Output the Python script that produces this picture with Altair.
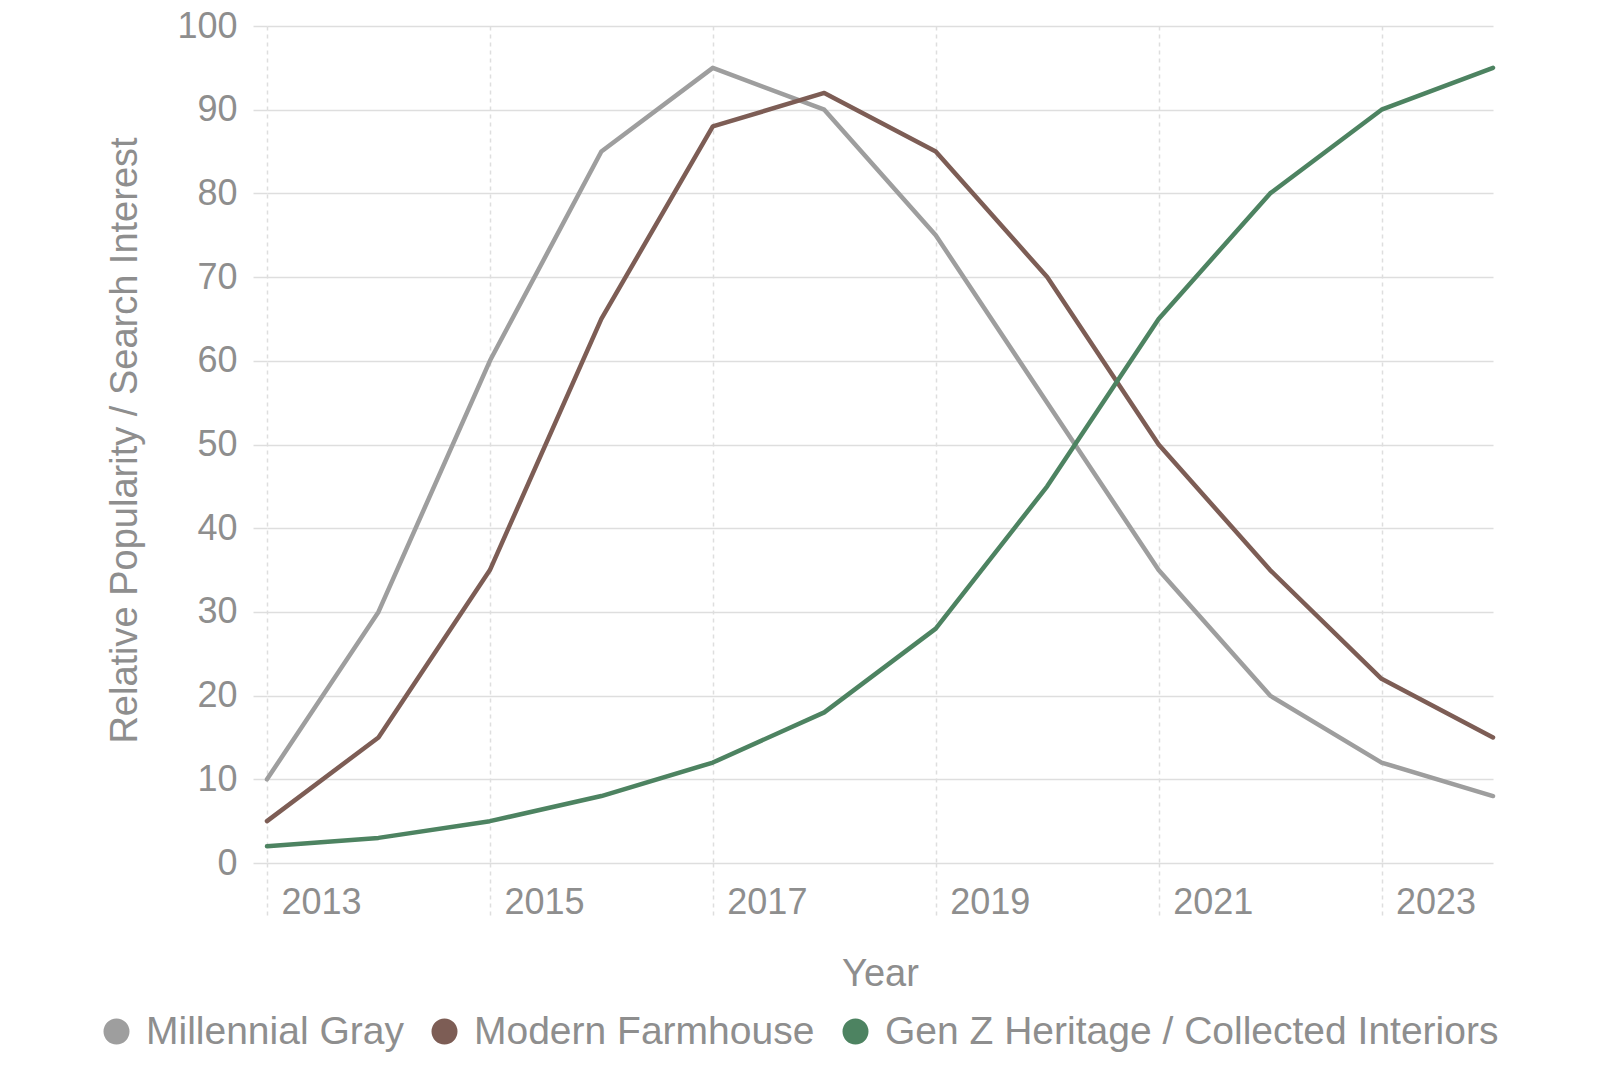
import altair as alt
import pandas as pd

years = [2013, 2014, 2015, 2016, 2017, 2018, 2019, 2020, 2021, 2022, 2023, 2024]
tick_years = [2013, 2015, 2017, 2019, 2021, 2023]
y_ticks = [0, 10, 20, 30, 40, 50, 60, 70, 80, 90, 100]

series = ["Millennial Gray", "Modern Farmhouse", "Gen Z Heritage / Collected Interiors"]
millennial_gray = [10, 30, 60, 85, 95, 90, 75, 55, 35, 20, 12, 8]
modern_farmhouse = [5, 15, 35, 65, 88, 92, 85, 70, 50, 35, 22, 15]
gen_z_heritage = [2, 3, 5, 8, 12, 18, 28, 45, 65, 80, 90, 95]
colors = ["#9e9e9e", "#7d5d55", "#4d8361"]

rows = []
for name, vals in zip(series, [millennial_gray, modern_farmhouse, gen_z_heritage]):
    for yr, v in zip(years, vals):
        rows.append({"Year": yr, "Value": v, "Style": name})
df = pd.DataFrame(rows)

grid_col = "#dedede"
text_col = "#8e8e8e"

chart = alt.Chart(df).mark_line(
    strokeWidth=4.5, strokeCap="round", strokeJoin="round"
).encode(
    x=alt.X(
        "Year:Q",
        scale=alt.Scale(domain=[2013, 2024], nice=False, zero=False),
        axis=alt.Axis(
            values=tick_years, format="d", title="Year",
            labelAlign="left", labelBaseline="top", labelOffset=14,
            labelPadding=-32, labelFlush=False,
            tickSize=54, tickDash=[4, 4], tickColor=grid_col, tickWidth=1.5,
            gridDash=[4, 4], gridColor=grid_col, gridWidth=1.5,
            domain=False, labelFontSize=36, labelColor=text_col,
            titleFontSize=38, titleColor=text_col, titleFontWeight="normal",
            titleY=92, titleBaseline="top",
        ),
    ),
    y=alt.Y(
        "Value:Q",
        scale=alt.Scale(domain=[0, 100], nice=False),
        axis=alt.Axis(
            values=y_ticks, title="Relative Popularity / Search Interest",
            tickSize=14, tickColor=grid_col, tickWidth=1.5,
            gridColor=grid_col, gridWidth=1.5, domain=False,
            labelPadding=16, labelFontSize=36, labelColor=text_col,
            titleFontSize=38, titleColor=text_col, titleFontWeight="normal",
            titleX=-142, titleY=414, titleBaseline="middle",
        ),
    ),
    color=alt.Color(
        "Style:N",
        sort=series,
        scale=alt.Scale(domain=series, range=colors),
        legend=alt.Legend(
            orient="none", legendX=-170, legendY=986, direction="horizontal",
            title=None, symbolType="circle", symbolSize=169, symbolStrokeWidth=13,
            labelFontSize=39, labelColor=text_col, labelOffset=10, labelLimit=0,
            columnPadding=8, padding=0,
        ),
    ),
).properties(
    width=1226, height=837,
    autosize=alt.AutoSizeParams(type="none"),
    padding={"left": 259, "top": 18, "right": 90, "bottom": 191},
).configure(font="Liberation Sans").configure_view(stroke=None)

chart.save("out.html", embed_options={"renderer": "svg", "actions": False})
